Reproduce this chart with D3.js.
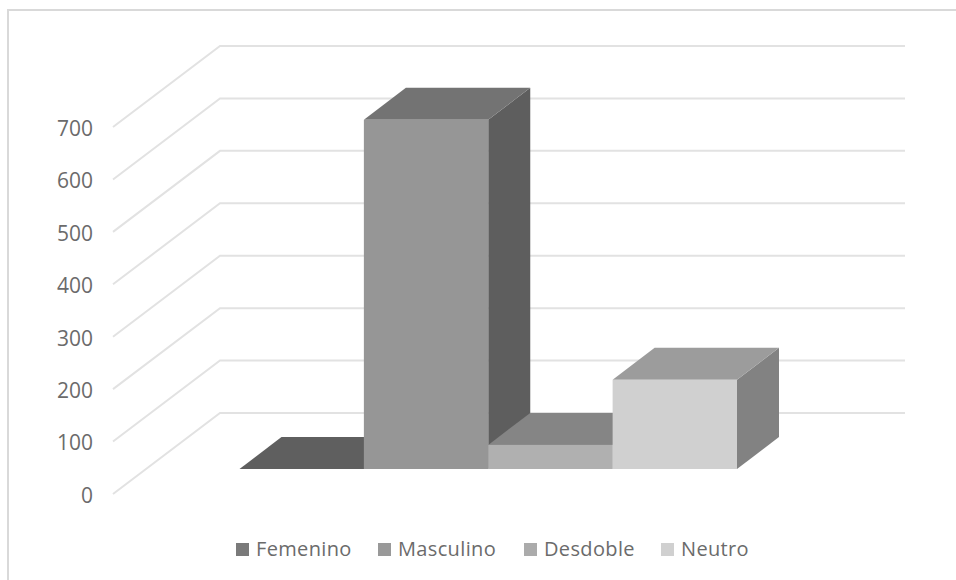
<!DOCTYPE html>
<html>
<head>
<meta charset="utf-8">
<script src="https://cdn.jsdelivr.net/npm/d3@7"></script>
<style>
  html, body { margin: 0; padding: 0; background: #fff; }
  svg { display: block; }
  text { font-family: "Open Sans", sans-serif; fill: #6b6b6b; }
</style>
</head>
<body>
<svg id="chart" width="956" height="580"></svg>
<script>
// Values and labels
const categories = ["Femenino", "Masculino", "Desdoble", "Neutro"];
const values = [0, 666, 46, 170];
const axisTicks = [0, 100, 200, 300, 400, 500, 600, 700];

// Face colours per category
const frontColors = ["#666666", "#969696", "#b0b0b0", "#d0d0d0"];
const topColors = ["#5f5f5f", "#737373", "#858585", "#9c9c9c"];
const sideColors = ["#555555", "#5e5e5e", "#6f6f6f", "#828282"];
const legendColors = ["#7a7a7a", "#999999", "#ababab", "#d0d0d0"];

const svg = d3.select("#chart");

// Oblique projection: front axis plane, back wall, and bars placed in between
const y = d3.scaleLinear().domain([0, 700]).range([494, 127]);
const wallDx = 107, wallDy = -81;
const barDx = 42, barDy = -32;
const barFloorOffset = 469 - y(0);

const x = d3.scaleBand().domain(categories).range([239.5, 737]).padding(0);

// Chart frame: only its top and left edges are inside the page
svg.append("path")
  .attr("d", d3.line()([[8, 580], [8, 10], [956, 10]]))
  .attr("fill", "none")
  .attr("stroke", "#d9d9d9")
  .attr("stroke-width", 2);

// Grid lines run up the side wall, then across the back wall
const gridLine = d3.line();
svg.append("g").selectAll("path").data(axisTicks).join("path")
  .attr("d", d => gridLine([
    [113, y(d)],
    [113 + wallDx, y(d) + wallDy],
    [905, y(d) + wallDy]
  ]))
  .attr("fill", "none")
  .attr("stroke", "#e2e2e2")
  .attr("stroke-width", 2);

// Value axis labels
const axis = d3.axisLeft(y).tickValues(axisTicks).tickSize(0).tickPadding(0);
const axisG = svg.append("g").attr("transform", "translate(93,0)").call(axis);
axisG.select(".domain").remove();
axisG.selectAll("text")
  .attr("dy", "0.4em")
  .style("font-size", "21px")
  .style("font-family", '"Open Sans", sans-serif')
  .style("fill", "#6b6b6b");

// Bars, drawn left to right so each one overlaps its neighbour's depth faces
const barY = v => y(v) + barFloorOffset;
const poly = pts => d3.line()(pts) + "Z";
const bars = svg.append("g").selectAll("g")
  .data(categories.map((c, i) => ({ c, i, v: values[i] })))
  .join("g");

bars.filter(d => d.v > 0).append("path")
  .attr("d", d => {
    const r = x(d.c) + x.bandwidth();
    return poly([[r, barY(d.v)], [r + barDx, barY(d.v) + barDy], [r + barDx, barY(0) + barDy], [r, barY(0)]]);
  })
  .attr("fill", d => sideColors[d.i]);

bars.append("path")
  .attr("d", d => {
    const l = x(d.c), r = l + x.bandwidth(), t = barY(d.v);
    return poly([[l, t], [r, t], [r + barDx, t + barDy], [l + barDx, t + barDy]]);
  })
  .attr("fill", d => topColors[d.i]);

bars.filter(d => d.v > 0).append("rect")
  .attr("x", d => x(d.c))
  .attr("y", d => barY(d.v))
  .attr("width", x.bandwidth())
  .attr("height", d => barY(0) - barY(d.v))
  .attr("fill", d => frontColors[d.i]);

// Legend along the bottom
const swatchX = [236, 378, 524, 661];
const legend = svg.append("g").selectAll("g").data(categories).join("g")
  .attr("transform", (d, i) => `translate(${swatchX[i]},0)`);
legend.append("rect")
  .attr("y", 543).attr("width", 13).attr("height", 13)
  .attr("fill", (d, i) => legendColors[i]);
legend.append("text")
  .attr("x", 20).attr("y", 556)
  .style("font-size", "20px")
  .style("letter-spacing", "0.35px")
  .text(d => d);
</script>
</body>
</html>
